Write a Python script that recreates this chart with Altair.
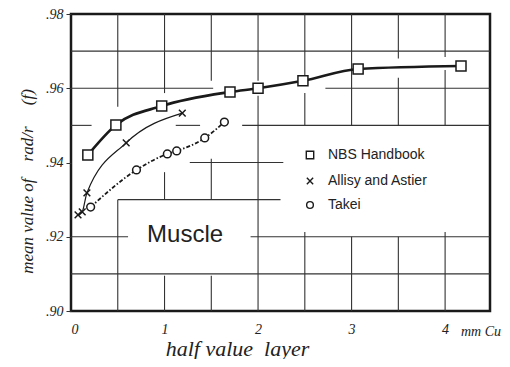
import altair as alt
import pandas as pd

# ---- data ----
series = ["NBS Handbook", "Allisy and Astier", "Takei"]

nbs_x = [0.18, 0.48, 0.97, 1.70, 2.00, 2.48, 3.07, 4.17]
nbs_y = [0.9420, 0.9501, 0.9552, 0.9590, 0.9600, 0.9620, 0.9652, 0.9660]

allisy_x = [0.075, 0.12, 0.17, 0.59, 1.19]
allisy_y = [0.9259, 0.9267, 0.9318, 0.9453, 0.9533]

takei_x = [0.21, 0.70, 1.03, 1.13, 1.43, 1.64]
takei_y = [0.9280, 0.9380, 0.9423, 0.9431, 0.9466, 0.9509]

x_ticks = [0, 1, 2, 3, 4]
y_ticks = [0.90, 0.91, 0.92, 0.93, 0.94, 0.95, 0.96, 0.97, 0.98]

# hand-drawn grid segments (data units)
grid_h_y = [0.97, 0.96, 0.96, 0.95, 0.95, 0.95, 0.94, 0.93, 0.92, 0.92, 0.91]
grid_h_x1 = [0, 0, 2.72, 0, 1.12, 1.83, 1.27, 0.5, 0, 1.92, 0]
grid_h_x2 = [4.48, 1.52, 4.48, 0.22, 1.38, 4.48, 2.27, 2.24, 0.61, 4.48, 4.48]

grid_v_x = [0.5, 0.5, 1, 1, 1, 1.5, 1.5, 1.5, 2, 2, 2.5, 2.5, 2.5, 3, 3, 3.5, 3.5, 3.5, 4, 4, 4]
grid_v_y1 = [0.98, 0.93, 0.98, 0.9374, 0.9095, 0.98, 0.941, 0.9095, 0.98, 0.958,
             0.98, 0.9587, 0.9213, 0.98, 0.92, 0.98, 0.9628, 0.92, 0.98, 0.9649, 0.9213]
grid_v_y2 = [0.955, 0.90, 0.9587, 0.93, 0.90, 0.962, 0.93, 0.90, 0.962, 0.90,
             0.963, 0.95, 0.90, 0.95, 0.90, 0.968, 0.95, 0.90, 0.9684, 0.95, 0.90]

# ---- tables ----
df = pd.concat([
    pd.DataFrame({"series": series[0], "x": nbs_x, "y": nbs_y}),
    pd.DataFrame({"series": series[1], "x": allisy_x, "y": allisy_y}),
    pd.DataFrame({"series": series[2], "x": takei_x, "y": takei_y}),
], ignore_index=True)
gh = pd.DataFrame({"y": grid_h_y, "x": grid_h_x1, "x2": grid_h_x2})
gv = pd.DataFrame({"x": grid_v_x, "y": grid_v_y1, "y2": grid_v_y2})

HAND = "Liberation Serif"
NB = "\u00a0"
INK = "#1a1a1a"
xscale = alt.Scale(domain=[0, 4.48], nice=False, zero=False)
yscale = alt.Scale(domain=[0.90, 0.98], nice=False, zero=False)

xaxis = alt.Axis(values=x_ticks, format="d", ticks=False, domain=False, grid=False,
                 labelPadding=11, labelFont=HAND, labelFontStyle="italic", labelFontSize=14,
                 labelColor="#222", title="half" + NB + "value" + NB * 2 + "layer", titleFont=HAND,
                 titleFontStyle="italic", titleFontWeight="normal", titleFontSize=22,
                 titleColor="#222", titleX=166, titleY=37, titleBaseline="middle",
                 titleAlign="center")
yaxis = alt.Axis(values=y_ticks, ticks=True, tickSize=5, tickColor="#333", domain=False,
                 grid=False, labelPadding=3, labelFont=HAND, labelFontStyle="italic",
                 labelFontSize=14, labelColor="#222",
                 labelExpr="round(datum.value*100) % 2 == 0 ? replace(format(datum.value, '.2f'), '0.', '.') : ''",
                 title="mean value of" + NB * 4 + "rad/r" + NB * 5 + "(f)", titleFont=HAND,
                 titleFontStyle="italic", titleFontWeight="normal", titleFontSize=17,
                 titleColor="#222", titleX=-44, titleY=167, titleBaseline="middle",
                 titleAlign="center", titleAngle=-90)

X = lambda: alt.X("x:Q", scale=xscale, axis=xaxis)
Y = lambda: alt.Y("y:Q", scale=yscale, axis=yaxis)

grid_h = alt.Chart(gh).mark_rule(color="#333", strokeWidth=1.1).encode(
    x=X(), x2="x2:Q", y=Y())
grid_v = alt.Chart(gv).mark_rule(color="#333", strokeWidth=1.1).encode(
    x=X(), y=Y(), y2="y2:Q")

base = alt.Chart(df)
line_nbs = base.transform_filter(alt.datum.series == series[0]).mark_line(
    interpolate="monotone", color=INK, strokeWidth=2.6).encode(x=X(), y=Y())
line_all = base.transform_filter(alt.datum.series == series[1]).mark_line(
    interpolate="monotone", color=INK, strokeWidth=1.2).encode(x=X(), y=Y())
line_tak = base.transform_filter(alt.datum.series == series[2]).mark_line(
    interpolate="monotone", color=INK, strokeWidth=1.8, strokeDash=[4, 2, 1.5, 2]).encode(x=X(), y=Y())

cross = "M-1,-1L1,1M1,-1L-1,1"
shapes = ["square", cross, "circle"]
sizes = [100, 45, 60]


def pts(i):
    return base.transform_filter(alt.datum.series == series[i]).mark_point(
        shape=shapes[i], size=sizes[i], filled=True, fill="white", stroke=INK,
        strokeWidth=1.5, opacity=1).encode(x=X(), y=Y())


points = [pts(i) for i in range(3)]

# hand-made key (as in the drawing)
key_rows = [141, 167, 191]
key = []
for i in range(3):
    key.append(alt.Chart(pd.DataFrame({"t": [series[i]]})).mark_point(
        shape=shapes[i], size=[55, 40, 45][i], filled=True, fill="white", stroke=INK,
        strokeWidth=1.4, opacity=1).encode(x=alt.value(239), y=alt.value(key_rows[i])))
    key.append(alt.Chart(pd.DataFrame({"t": [series[i]]})).mark_text(
        font="Liberation Sans", fontSize=14, color="#222", align="left", baseline="middle").encode(
        x=alt.value(257), y=alt.value(key_rows[i]), text="t:N"))

muscle = alt.Chart(pd.DataFrame({"t": ["Muscle"]})).mark_text(
    font="Liberation Sans", fontSize=24, color="#222", align="center", baseline="middle").encode(
    x=alt.datum(1.22, scale=xscale), y=alt.datum(0.9205, scale=yscale), text="t:N")
units = alt.Chart(pd.DataFrame({"t": ["mm Cu"]})).mark_text(
    font=HAND, fontSize=14, fontStyle="italic", color="#222", align="left", baseline="middle").encode(
    x=alt.datum(4.17, scale=xscale), y=alt.datum(0.8943, scale=yscale), text="t:N")

chart = alt.layer(grid_h, grid_v, line_nbs, line_all, line_tak, *points, *key, muscle, units).properties(
    width=419, height=297,
    autosize=alt.AutoSizeParams(type="none"),
    padding={"left": 63, "top": 6, "right": 12, "bottom": 48},
).configure_view(stroke=INK, strokeWidth=2.5)

chart.save("out.html", embed_options={"renderer": "svg", "actions": False})
